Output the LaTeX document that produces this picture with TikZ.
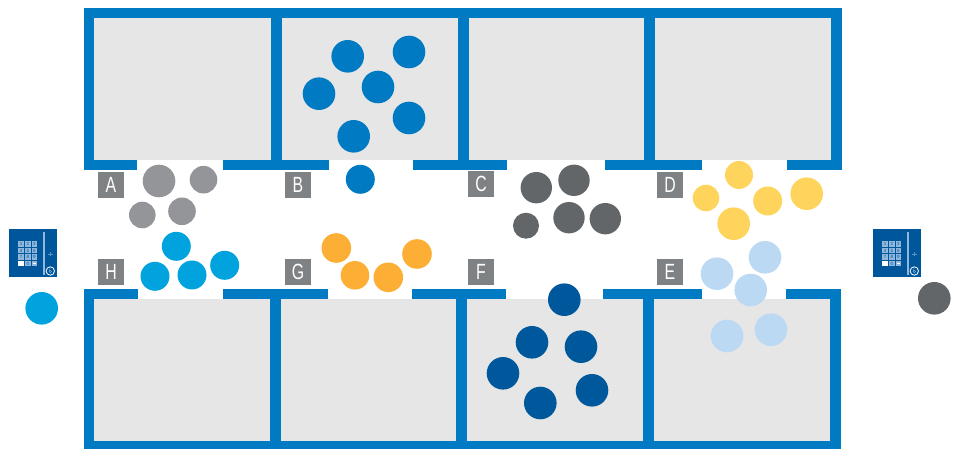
\documentclass[tikz,border=0pt]{standalone}
\usepackage{fontspec}
\newfontfamily\doorfont[FakeStretch=0.72]{Liberation Sans}
\definecolor{wallblue}{HTML}{007AC2}
\definecolor{floorgray}{HTML}{E6E6E6}
\definecolor{tagbox}{HTML}{7F8285}
\definecolor{padblue}{HTML}{00569B}
\definecolor{padkey}{HTML}{8FB8DC}
\definecolor{padplus}{HTML}{5C93C4}
\definecolor{groupA}{HTML}{939598}
\definecolor{groupB}{HTML}{007AC2}
\definecolor{groupC}{HTML}{636669}
\definecolor{groupD}{HTML}{FFD45C}
\definecolor{groupE}{HTML}{BBD9F2}
\definecolor{groupF}{HTML}{00589C}
\definecolor{groupG}{HTML}{FCAE35}
\definecolor{groupH}{HTML}{00A3DD}
\tikzset{
  doortag/.style={fill=tagbox,text=white,minimum size=26pt,inner sep=0pt,
    font=\doorfont\fontsize{22}{22}\selectfont},
  keydigit/.style={text=padblue,inner sep=0pt,
    font=\fontspec{Liberation Sans}\fontsize{4.5}{5}\selectfont},
  pics/keypad/.style={code={
    \fill[padblue] (0,0) rectangle (48,48);
    % keys
    \foreach \kx/\ky/\kd in {9.4/12/1,16/12/2,22.6/12/3,
                             9.4/18.5/4,16/18.5/5,22.6/18.5/6,
                             9.4/25/7,16/25/8,22.6/25/9,
                             16/31.5/0}{
      \fill[padkey] (\kx,\ky) rectangle +(5.6,5.6);
      \node[keydigit] (k\kd) at (\kx+2.8,\ky+2.8) {\kd};
    }
    \fill[white] (9.4,31.5) rectangle +(5.6,5.6);
    \fill[padkey] (22.6,31.5) rectangle +(5.6,5.6);
    \fill[white] (23.6,33.8) rectangle (27.2,34.9);
    % divider and plus
    \fill[padkey] (34.3,3) rectangle (35.8,45.5);
    \draw[padplus,line width=0.8pt] (39.2,24.7) -- (43.8,24.7) (41.5,22.4) -- (41.5,27);
    % round button
    \draw[white,line width=0.8pt] (41.3,41.7) circle (4.2pt);
    \draw[padkey,line width=0.4pt] (41.4,42.2) circle (1.2pt) (40.2,39) -- (40.2,42.2);
  }}
}
\begin{document}
\begin{tikzpicture}[x=1pt,y=-1pt]
  \useasboundingbox (0,0) rectangle (954,449);
  % floors
  \fill[floorgray] (94,18) rectangle (831,160);
  \fill[floorgray] (94,299) rectangle (830,441);
  % top block walls
  \fill[wallblue] (84,8) rectangle (841.5,18);
  \fill[wallblue] (84,8) rectangle (94,170);
  \fill[wallblue] (831,8) rectangle (841.5,170);
  \foreach \wa/\wb in {271/281.5,457.5/468.5,644/655}
    \fill[wallblue] (\wa,18) rectangle (\wb,170);
  \foreach \wa/\wb in {84/137.3,223.3/329,413/506.7,604.7/701.7,787.3/841.5}
    \fill[wallblue] (\wa,160) rectangle (\wb,170);
  % bottom block walls
  \fill[wallblue] (84,441) rectangle (840.5,449);
  \fill[wallblue] (84,289) rectangle (94,449);
  \fill[wallblue] (830,289) rectangle (840.5,449);
  \foreach \wa/\wb in {270.3/281,456.3/467.3,643/653.7}
    \fill[wallblue] (\wa,299) rectangle (\wb,441);
  \foreach \wa/\wb in {84/138,223.3/328,412/506.3,603/702,785.7/840.5}
    \fill[wallblue] (\wa,289) rectangle (\wb,299);
  % door tags
  \node[doortag] (tagA) at (111,185) {A};
  \node[doortag] (tagB) at (298,185) {B};
  \node[doortag] (tagC) at (481,184) {C};
  \node[doortag] (tagD) at (670,185) {D};
  \node[doortag] (tagE) at (670,272) {E};
  \node[doortag] (tagF) at (481,272) {F};
  \node[doortag] (tagG) at (298,272) {G};
  \node[doortag] (tagH) at (111,272) {H};
  % groups of people
  \foreach \cx/\cy/\cr in {159/181/16.3,203.5/179.7/13.8,142.3/215/13.3,182/211.3/13.8}
    \fill[groupA] (\cx,\cy) circle (\cr pt);
  \foreach \cx/\cy/\cr in {347.7/56.3/16.3,409/52/16.3,319/93.7/16.3,378/87/16.3,409/118/16.3,353.7/136.3/16.3,360.3/179.3/14.5}
    \fill[groupB] (\cx,\cy) circle (\cr pt);
  \foreach \cx/\cy/\cr in {536.3/187.7/15.7,574/180.3/15.7,569/217.7/15.7,605.3/218.7/15.7,526/225.7/13}
    \fill[groupC] (\cx,\cy) circle (\cr pt);
  \foreach \cx/\cy/\cr in {739/175/14,706/198/13.3,767.7/201/14.5,806.7/193.7/16.3,733.7/223.7/16.3}
    \fill[groupD] (\cx,\cy) circle (\cr pt);
  \foreach \cx/\cy/\cr in {765/257.3/16.3,717/273.7/16.3,750.7/290/16.3,727/336/16.3,771/329.7/16.3}
    \fill[groupE] (\cx,\cy) circle (\cr pt);
  \foreach \cx/\cy/\cr in {564.3/299.7/16.3,532/342.3/16.3,581/346.7/16.3,503/373.3/16.3,540.3/403/16.3,592/390.3/16.3}
    \fill[groupF] (\cx,\cy) circle (\cr pt);
  \foreach \cx/\cy/\cr in {336.3/248/14.8,355/275.3/14.3,388.3/277.3/14.8,417/254/14.8}
    \fill[groupG] (\cx,\cy) circle (\cr pt);
  \foreach \cx/\cy/\cr in {176.3/246.3/14.5,155/276.3/14.5,192/275/14.5,224.7/265.3/14.5}
    \fill[groupH] (\cx,\cy) circle (\cr pt);
  % keypads with the two people beside them
  \pic (padleft) at (9,229.3) {keypad};
  \pic (padright) at (873,229.3) {keypad};
  \fill[groupH] (41.7,308.3) circle (16.3pt);
  \fill[groupC] (934.3,298.3) circle (16.3pt);
\end{tikzpicture}
\end{document}
